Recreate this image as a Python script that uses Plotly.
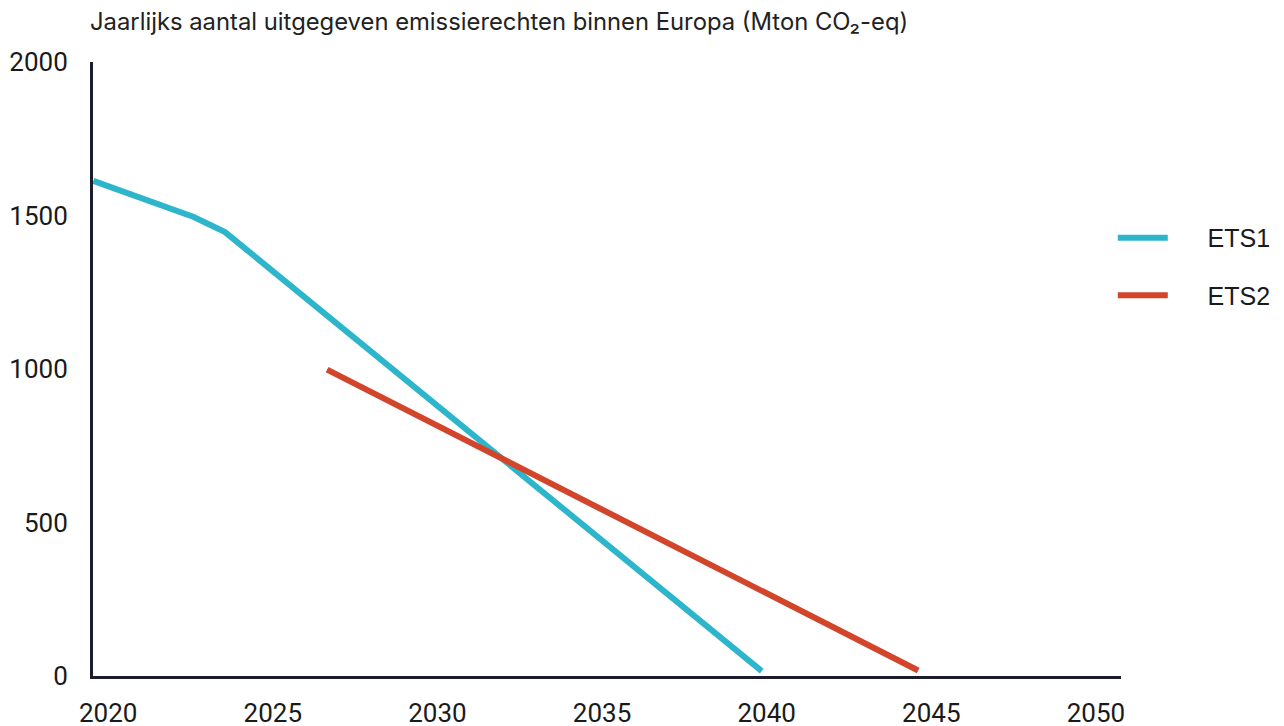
import plotly.graph_objects as go

# Data
ets1_years = [2019.55, 2021.6, 2022.6, 2023.55, 2039.85]
ets1_values = [1613, 1533, 1495, 1446, 16]
ets2_years = [2026.65, 2044.6]
ets2_values = [998, 18]

x_ticks = [2020, 2025, 2030, 2035, 2040, 2045, 2050]
y_ticks = [0, 500, 1000, 1500, 2000]

title_text = "Jaarlijks aantal uitgegeven emissierechten binnen Europa (Mton CO₂-eq)"
gap = "\u00a0" * 5

c_ets1 = "#2db5cb"
c_ets2 = "#d2452b"
axis_col = "#1b1d2c"

fig = go.Figure()
fig.add_trace(go.Scatter(x=ets1_years, y=ets1_values, mode="lines", name=gap + "ETS1",
                         line=dict(color=c_ets1, width=6), legendgroup="a"))
fig.add_trace(go.Scatter(x=ets2_years, y=ets2_values, mode="lines", name=gap + "ETS2",
                         line=dict(color=c_ets2, width=6), legendgroup="b"))

fig.update_layout(
    width=1284, height=726,
    margin=dict(l=85, r=171, t=54, b=58, autoexpand=False),
    plot_bgcolor="white", paper_bgcolor="white",
    showlegend=True,
    legend=dict(x=0.992, y=0.667, xanchor="left", yanchor="middle",
                font=dict(family="Liberation Sans, Arial, sans-serif", size=25, color="#1a1a1a"),
                tracegroupgap=22, traceorder="grouped", itemwidth=50),
    title=dict(text=title_text, x=82/1284, xanchor="left", y=1-14/726, yanchor="middle",
               font=dict(family="Inter, Lato, sans-serif", size=23.8, color="#222222")),
)
fig.update_xaxes(range=[2019.54, 2050.76], tickvals=x_ticks, showgrid=False, zeroline=False,
                 showline=True, linecolor=axis_col, linewidth=3, ticks="", automargin=False,
                 tickfont=dict(family="Roboto, Arial, sans-serif", size=26, color="#1a1a1a"),
                 ticklabelstandoff=12)
fig.update_yaxes(range=[0, 2000], tickvals=y_ticks, showgrid=False, zeroline=False,
                 showline=True, linecolor=axis_col, linewidth=3, ticks="", automargin=False,
                 tickfont=dict(family="Roboto, Arial, sans-serif", size=26, color="#1a1a1a"),
                 ticklabelstandoff=17)

fig.write_html("out.html")
